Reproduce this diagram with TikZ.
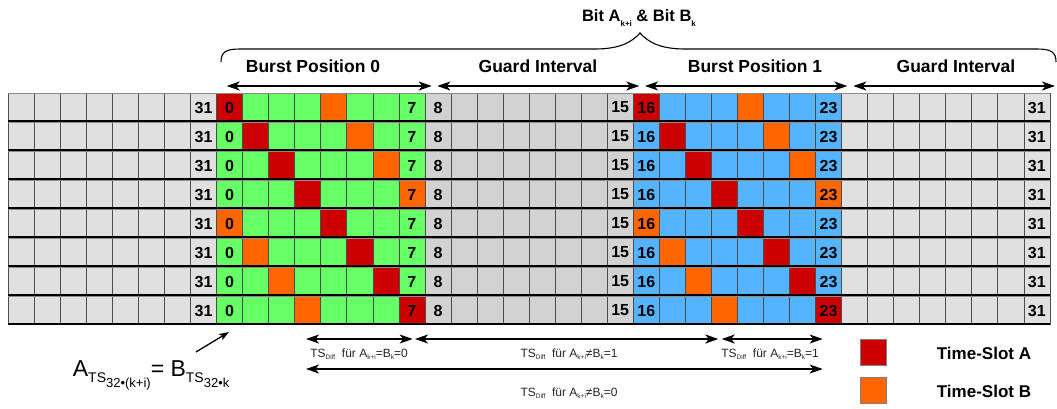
\documentclass[tikz,border=0pt]{standalone}
\usepackage{fontspec}
\setmainfont{Liberation Sans}
\usetikzlibrary{arrows.meta}
\definecolor{cred}{HTML}{CC0000}
\definecolor{corange}{HTML}{FF6600}
\definecolor{cgreen}{HTML}{66FF66}
\definecolor{cblue}{HTML}{55B4FF}
\definecolor{clight}{HTML}{E0E0E0}
\definecolor{cguard}{HTML}{D2D2D2}
\newcommand\mysub[2][5]{\raisebox{-#1pt}{\fontsize{8}{8}\selectfont #2}}
\newcommand\smsub[1]{\raisebox{-2.5pt}{\fontsize{6.5}{6.5}\selectfont #1}}
\tikzset{
  num/.style={font=\fontsize{16}{16}\selectfont\bfseries, inner sep=0pt},
  grp/.style={font=\fontsize{17.5}{17.5}\selectfont\bfseries, inner sep=0pt},
  dar/.style={{Stealth[length=13pt,width=9pt,inset=3.5pt]}-{Stealth[length=13pt,width=9pt,inset=3.5pt]}, line width=1.5pt},
  small/.style={font=\fontsize{12}{12}\selectfont, text=black!85, inner sep=0pt},
  legbox/.style={draw=black!50, line width=0.6pt, minimum size=26.5pt, inner sep=0pt},
  legtxt/.style={font=\fontsize{17}{17}\selectfont\bfseries, inner sep=0pt, anchor=west}
}
\begin{document}
\begin{tikzpicture}[x=1pt,y=-1pt]
\useasboundingbox (0,0) rectangle (1057,408);
\fill[white] (0,0) rectangle (1057,408);

% grid of time slots
\foreach \r in {0,...,7}{
  \foreach \c in {0,...,39}{
    \pgfmathtruncatemacro{\s}{mod(\c,8)}
    \pgfmathtruncatemacro{\g}{\c/8}
    \pgfmathtruncatemacro{\o}{mod(\r+4,8)}
    \def\col{clight}
    \ifnum\g=1 \def\col{cgreen}\fi
    \ifnum\g=2 \def\col{cguard}\fi
    \ifnum\g=3 \def\col{cblue}\fi
    \ifodd\g
      \ifnum\s=\r \def\col{cred}\fi
      \ifnum\s=\o \def\col{corange}\fi
    \fi
    \filldraw[fill=\col, draw=black!70, line width=0.7pt]
      ({8.3+\c*26.04},{93+\r*29}) rectangle ++(26.04,28);
  }
  \draw[black!45, line width=0.8pt] (8.3,{93+\r*29}) -- ++(1041.6,0);
  \draw[black, line width=1.3pt] (8.3,{93+\r*29+28}) -- ++(1041.6,0);
  \foreach \c/\t in {7/31,8/0,15/7,16/8,23/15,24/16,31/23,39/31}
    \node[num] (n\r-\c) at ({8.3+(\c+0.5)*26.04},{93+\r*29+14.5}) {\t};
}

% brace
\draw[line width=1.1pt]
  (221,62) .. controls (221,52) and (226,49) .. (240,49)
  -- (595,49) .. controls (620,49) and (632,42) .. (640,33)
  .. controls (648,42) and (660,49) .. (685,49)
  -- (1037,49) .. controls (1051,49) and (1056,52) .. (1056,62);
\node[inner sep=0pt, anchor=base, font=\fontsize{16.5}{16.5}\selectfont\bfseries] (bit) at (639,21)
  {Bit A\mysub{k+i} \& Bit B\mysub{k}};

% group labels
\node[grp] (bp0) at (313,66) {Burst Position 0};
\node[grp] (gi0) at (538,66) {Guard Interval};
\node[grp] (bp1) at (755,66) {Burst Position 1};
\node[grp] (gi1) at (956,66) {Guard Interval};

% top arrows
\coordinate (a0l) at (226.7,86); \coordinate (a0r) at (431.7,86);
\coordinate (a1l) at (437.3,86); \coordinate (a1r) at (639.3,86);
\coordinate (a2l) at (645,86);   \coordinate (a2r) at (847.3,86);
\coordinate (a3l) at (853.3,86); \coordinate (a3r) at (1055,86);
\draw[dar] (a0l) -- (a0r);
\draw[dar] (a1l) -- (a1r);
\draw[dar] (a2l) -- (a2r);
\draw[dar] (a3l) -- (a3r);

% bottom arrows
\coordinate (b0l) at (306,339);   \coordinate (b0r) at (412.7,339);
\coordinate (b1l) at (415,339);   \coordinate (b1r) at (718.3,339);
\coordinate (b2l) at (721.7,339); \coordinate (b2r) at (822.7,339);
\coordinate (b3l) at (306,369);   \coordinate (b3r) at (822.7,369);
\draw[dar] (b0l) -- (b0r);
\draw[dar] (b1l) -- (b1r);
\draw[dar] (b2l) -- (b2r);
\draw[dar] (b3l) -- (b3r);

\node[small] (t0) at (359,354) {TS\smsub{Diff}\ \ für A\smsub{k+i}=B\smsub{k}=0};
\node[small] (t1) at (569,354) {TS\smsub{Diff}\ \ für A\smsub{k+i}≠B\smsub{k}=1};
\node[small] (t2) at (770,354) {TS\smsub{Diff}\ \ für A\smsub{k+i}=B\smsub{k}=1};
\node[small] (t3) at (569,393) {TS\smsub{Diff}\ \ für A\smsub{k+i}≠B\smsub{k}=0};

% formula
\node[inner sep=0pt, anchor=base west, font=\fontsize{23}{23}\selectfont] (form) at (72.7,376)
  {A\raisebox{-6pt}{\fontsize{14}{14}\selectfont TS\raisebox{-5pt}{\fontsize{13}{13}\selectfont 32•(k+i)}}= B\raisebox{-6pt}{\fontsize{14}{14}\selectfont TS\raisebox{-5pt}{\fontsize{13}{13}\selectfont 32•k}}};
\coordinate (fs) at (196,352);
\coordinate (ft) at (229,332);
\draw[-{Stealth[length=10pt,width=7pt,inset=2.5pt]}, line width=1.3pt] (fs) -- (ft);

% legend
\node[legbox, fill=cred] (la) at (873.3,352.5) {};
\node[legbox, fill=corange] (lb) at (873.3,390.3) {};
\node[legtxt] (lta) at (936.7,353) {Time-Slot A};
\node[legtxt] (ltb) at (936.7,391) {Time-Slot B};
\end{tikzpicture}
\end{document}
